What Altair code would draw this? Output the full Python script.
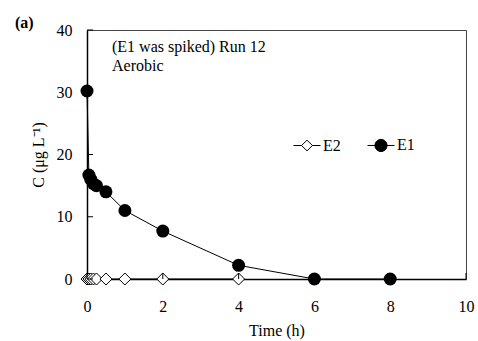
import altair as alt
import pandas as pd

# ---- data ----
time_e1 = [0, 0.05, 0.1, 0.17, 0.25, 0.5, 1, 2, 4, 6, 8]
conc_e1 = [30.2, 16.7, 16.0, 15.3, 15.0, 14.0, 11.0, 7.7, 2.2, 0, 0]
time_e2 = [0, 0.05, 0.1, 0.17, 0.25, 0.5, 1, 2, 4]
conc_e2 = [0, 0, 0, 0, 0, 0, 0, 0, 0]
series_order = ["E2", "E1"]
x_ticks = [0, 2, 4, 6, 8, 10]
y_ticks = [0, 10, 20, 30, 40]
note_lines = ["(E1 was spiked) Run 12", "Aerobic"]
panel_label = "(a)"

W, H = 379, 249
FONT = "Liberation Serif"

df = pd.concat([
    pd.DataFrame({"t": time_e2, "c": conc_e2, "series": "E2"}),
    pd.DataFrame({"t": time_e1, "c": conc_e1, "series": "E1"}),
], ignore_index=True)

xs = alt.Scale(domain=[0, 10], nice=False)
ys = alt.Scale(domain=[0, 40], nice=False)

x_enc = alt.X("t:Q", scale=xs, axis=alt.Axis(
    values=x_ticks, title="Time  (h)", tickSize=0, labelPadding=19,
    titlePadding=8, grid=False))
y_enc = alt.Y("c:Q", scale=ys, axis=alt.Axis(
    values=y_ticks, title="C (μg L⁻¹)", tickSize=0, labelPadding=15,
    titlePadding=10, grid=False))

base = alt.Chart(df)

lines = base.mark_line(color="black", strokeWidth=1).encode(
    x=x_enc, y=y_enc, detail="series:N", order="t:Q")

e2_pts = base.transform_filter(alt.datum.series == "E2").mark_point(
    shape="diamond", size=144, filled=True, fill="white", stroke="black",
    strokeWidth=1, opacity=1).encode(x="t:Q", y="c:Q")

e1_pts = base.transform_filter(alt.datum.series == "E1").mark_circle(
    size=169, color="black", opacity=1).encode(x="t:Q", y="c:Q")

# legend (custom symbols with a line through them)
path_e2 = "M-1,0H-0.4M-0.4,0L0,-0.4L0.4,0L0,0.4ZM0.4,0H1"
path_e1 = "M-1,0H1M-0.45,0A0.45,0.45,0,1,0,0.45,0A0.45,0.45,0,1,0,-0.45,0Z"
leg = alt.Legend(title=None, orient="none", legendX=206, legendY=101,
                 direction="horizontal", symbolSize=729,
                 symbolStrokeColor="black", symbolStrokeWidth=1,
                 labelFont=FONT, labelFontSize=16, labelColor="black",
                 labelOffset=2, columnPadding=24, padding=0,
                 symbolOpacity=1)
legend_layer = base.mark_point(filled=True, strokeWidth=1, opacity=0).encode(
    x="t:Q", y="c:Q",
    shape=alt.Shape("series:N", scale=alt.Scale(domain=series_order,
                    range=[path_e2, path_e1]), legend=leg),
    fill=alt.Fill("series:N", scale=alt.Scale(domain=series_order,
                  range=["white", "black"]), legend=leg),
    stroke=alt.Stroke("series:N", scale=alt.Scale(domain=series_order,
                      range=["black", "black"]), legend=leg),
)

# inward tick marks
yt = alt.Chart(pd.DataFrame({"v": y_ticks})).mark_rule(
    color="black", strokeWidth=1).encode(
    y=alt.Y("v:Q", scale=ys), x=alt.value(0), x2=alt.value(6))
xt = alt.Chart(pd.DataFrame({"v": x_ticks})).mark_rule(
    color="black", strokeWidth=1).encode(
    x=alt.X("v:Q", scale=xs), y=alt.value(H), y2=alt.value(H - 6))

txt_df = pd.DataFrame({"s": note_lines + [panel_label]})
note1 = alt.Chart(txt_df).transform_filter(
    alt.datum.s == note_lines[0]).mark_text(
    font=FONT, fontSize=16, align="left", baseline="alphabetic",
    color="black").encode(x=alt.value(25), y=alt.value(22), text="s:N")
note2 = alt.Chart(txt_df).transform_filter(
    alt.datum.s == note_lines[1]).mark_text(
    font=FONT, fontSize=16, align="left", baseline="alphabetic",
    color="black").encode(x=alt.value(25), y=alt.value(41), text="s:N")
label_a = alt.Chart(txt_df).transform_filter(
    alt.datum.s == panel_label).mark_text(
    font=FONT, fontSize=16, fontWeight="bold", align="left",
    baseline="middle", color="black").encode(
    x=alt.value(-72), y=alt.value(-7), text="s:N")

chart = alt.layer(lines, e2_pts, e1_pts, legend_layer, yt, xt,
                  note1, note2, label_a
).properties(
    width=W, height=H,
    background="white",
    autosize=alt.AutoSizeParams(type="none"),
    padding={"left": 87, "top": 30, "right": 12, "bottom": 62},
).configure_view(stroke="#444444", strokeWidth=1
).configure_axis(
    labelFont=FONT, labelFontSize=16, labelColor="black",
    titleFont=FONT, titleFontSize=16, titleColor="black",
    titleFontWeight="normal", domainColor="black", domainWidth=1.5,
    labelFlush=False, labelOverlap=False,
)

chart.save("out.html", embed_options={"renderer": "svg", "actions": False})
